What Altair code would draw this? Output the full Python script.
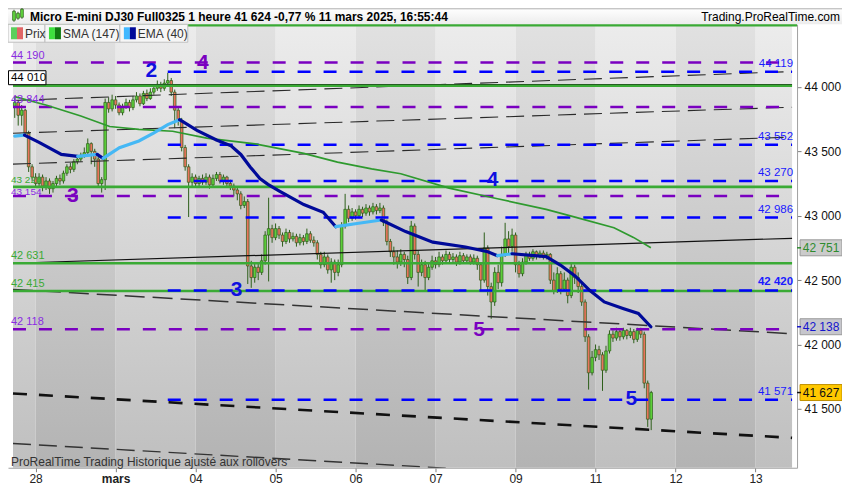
import altair as alt
import pandas as pd

W, H = 790, 444
X0, X1 = -0.5, 223.5
Y0, Y1 = 41043, 44487
PPX = (Y1 - Y0) / H
FONT = "Liberation Sans"

# ---------------- data ----------------
tick_pos = [6, 29, 52, 75, 98, 121, 144, 167, 190, 213]
tick_text = ["28", "mars", "04", "05", "06", "07", "09", "11", "12", "13"]
light_band_start = [-0.5, 29, 75, 121, 167, 213]
light_band_end = [6, 52, 98, 144, 190, 223.5]
dark_band_start = [6, 52, 98, 144, 190]
dark_band_end = [29, 75, 121, 167, 213]

opens = [43850, 43880, 43780, 43820, 43640, 43380, 43300, 43250, 43300, 43230,
         43270, 43210, 43250, 43290, 43270, 43330, 43380, 43360, 43420, 43440,
         43470, 43490, 43560, 43500, 43440, 43250, 43280, 43880, 43830, 43900,
         43860, 43800, 43850, 43880, 43840, 43900, 43930, 43870, 43950, 43910,
         43960, 43990, 44020, 43990, 44030, 44050, 43960, 43820, 43740, 43530,
         43380, 43260, 43300, 43250, 43290, 43260, 43300, 43240, 43290, 43320,
         43270, 43300, 43250, 43230, 43200, 43170, 43080, 43110, 42610, 42520,
         42600, 42560, 42650, 42850, 42900, 42830, 42900, 42850, 42800, 42870,
         42820, 42840, 42790, 42830, 42800, 42860, 42810, 42790, 42700, 42620,
         42680, 42580, 42640, 42560, 42620, 42920, 43050, 42980, 43030, 43000,
         43050, 43020, 43060, 43030, 43070, 43040, 43060, 42950, 42800, 42720,
         42680, 42640, 42700, 42660, 42520, 42920, 42700, 42560, 42620, 42520,
         42600, 42650, 42620, 42680, 42650, 42700, 42660, 42680, 42640, 42690,
         42650, 42680, 42640, 42670, 42620, 42500, 42750, 42450, 42330, 42560,
         42480, 42700, 42820, 42760, 42850, 42620, 42550, 42640, 42700, 42670,
         42720, 42690, 42710, 42680, 42700, 42500, 42420, 42550, 42430, 42500,
         42380, 42600, 42520, 42450, 42330, 42060, 41780, 41900, 41960, 41920,
         41800, 41950, 42080, 42050, 42100, 42060, 42110, 42070, 42100, 42040,
         42110, 42080, 41700, 41420]
highs = [43930, 43900, 43860, 43830, 43660, 43400, 43330, 43330, 43320, 43300,
         43290, 43270, 43310, 43320, 43350, 43400, 43410, 43440, 43470, 43490,
         43530, 43600, 43570, 43520, 43460, 43300, 43910, 43920, 43940, 43930,
         43880, 43870, 43910, 43900, 43930, 43960, 43950, 43970, 43980, 43990,
         44020, 44050, 44040, 44060, 44110, 44070, 43980, 43850, 43760, 43550,
         43400, 43330, 43320, 43310, 43320, 43330, 43320, 43320, 43340, 43340,
         43320, 43310, 43280, 43250, 43220, 43190, 43150, 43130, 42650, 42640,
         42630, 42700, 42880, 43140, 42930, 42940, 42920, 42870, 42900, 42890,
         42870, 42860, 42860, 42850, 42900, 42880, 42840, 42810, 42720, 42720,
         42700, 42670, 42660, 42660, 42950, 43170, 43080, 43060, 43050, 43080,
         43070, 43090, 43080, 43100, 43090, 43100, 43080, 42970, 42820, 42760,
         42730, 42740, 42720, 42690, 42960, 42940, 42730, 42660, 42650, 42640,
         42690, 42680, 42720, 42700, 42730, 42720, 42710, 42700, 42720, 42710,
         42700, 42700, 42700, 42690, 42640, 42870, 42770, 42480, 42600, 42620,
         42760, 42945, 42880, 42900, 42870, 42650, 42670, 42720, 42720, 42740,
         42730, 42730, 42730, 42720, 42710, 42560, 42600, 42570, 42560, 42520,
         42630, 42620, 42560, 42470, 42350, 42080, 41950, 42000, 41990, 41940,
         41990, 42110, 42110, 42130, 42120, 42130, 42120, 42130, 42120, 42130,
         42130, 42100, 41720, 41640]
lows = [43760, 43700, 43700, 43620, 43340, 43270, 43220, 43230, 43190, 43200,
        43170, 43180, 43230, 43240, 43250, 43310, 43330, 43340, 43400, 43420,
        43450, 43470, 43400, 43380, 43220, 43180, 43200, 43800, 43810, 43830,
        43780, 43780, 43830, 43810, 43820, 43880, 43850, 43860, 43890, 43900,
        43940, 43970, 43960, 43970, 44000, 43930, 43680, 43700, 43500, 43350,
        42990, 43230, 43220, 43230, 43240, 43240, 43210, 43220, 43270, 43250,
        43240, 43220, 43200, 43150, 43120, 43050, 43060, 42470, 42440, 42480,
        42500, 42540, 42620, 42490, 42790, 42810, 42820, 42760, 42780, 42790,
        42800, 42760, 42770, 42770, 42780, 42790, 42760, 42660, 42590, 42600,
        42550, 42480, 42500, 42530, 42600, 42900, 42950, 42960, 42970, 42980,
        42990, 43000, 43000, 43010, 43010, 43020, 42920, 42770, 42680, 42620,
        42590, 42610, 42600, 42470, 42500, 42660, 42450, 42530, 42420, 42500,
        42580, 42590, 42600, 42620, 42630, 42640, 42640, 42610, 42620, 42630,
        42630, 42620, 42620, 42580, 42420, 42480, 42380, 42200, 42300, 42430,
        42450, 42680, 42700, 42720, 42560, 42520, 42530, 42620, 42650, 42650,
        42660, 42670, 42660, 42660, 42470, 42390, 42400, 42390, 42410, 42320,
        42360, 42470, 42400, 42300, 42020, 41650, 41760, 41870, 41880, 41640,
        41780, 41930, 42020, 42030, 42030, 42040, 42040, 42050, 42010, 42020,
        42050, 41660, 41360, 41335]
closes = [43880, 43780, 43820, 43640, 43380, 43300, 43250, 43300, 43230, 43270,
          43210, 43250, 43290, 43270, 43330, 43380, 43360, 43420, 43440, 43470,
          43490, 43560, 43500, 43440, 43250, 43280, 43880, 43830, 43900, 43860,
          43800, 43850, 43880, 43840, 43900, 43930, 43870, 43950, 43910, 43960,
          43990, 44020, 43990, 44030, 44050, 43960, 43820, 43740, 43530, 43380,
          43260, 43300, 43250, 43290, 43260, 43300, 43240, 43290, 43320, 43270,
          43300, 43250, 43230, 43200, 43170, 43080, 43110, 42610, 42520, 42600,
          42560, 42650, 42850, 42900, 42830, 42900, 42850, 42800, 42870, 42820,
          42840, 42790, 42830, 42800, 42860, 42810, 42790, 42700, 42620, 42680,
          42580, 42640, 42560, 42620, 42920, 43050, 42980, 43030, 43000, 43050,
          43020, 43060, 43030, 43070, 43040, 43060, 42950, 42800, 42720, 42680,
          42640, 42700, 42660, 42520, 42920, 42700, 42560, 42620, 42520, 42600,
          42650, 42620, 42680, 42650, 42700, 42660, 42680, 42640, 42690, 42650,
          42680, 42640, 42670, 42620, 42500, 42750, 42450, 42330, 42560, 42480,
          42700, 42820, 42760, 42850, 42620, 42550, 42640, 42700, 42670, 42720,
          42690, 42710, 42680, 42700, 42500, 42420, 42550, 42430, 42500, 42380,
          42600, 42520, 42450, 42330, 42060, 41780, 41900, 41960, 41920, 41800,
          41950, 42080, 42050, 42100, 42060, 42110, 42070, 42100, 42040, 42110,
          42080, 41700, 41420, 41627]

sma_x = [0, 9.2, 19, 27.3, 35.7, 45.4, 55.2, 69.1, 83.1, 92.8, 102.6, 111, 124.9,
         138.8, 152.8, 161.1, 172.3, 177.9, 182.9]
sma_y = [43925, 43858, 43775, 43693, 43671, 43656, 43603, 43558, 43484, 43416, 43364,
         43326, 43214, 43132, 43049, 42989, 42907, 42832, 42751]

ema_seg = [0, 0,
           1, 1, 1, 1,
           2, 2,
           3, 3,
           4, 4, 4, 4, 4, 4,
           5, 5, 5, 5, 5, 5, 5, 5, 5, 5, 5, 5,
           6, 6, 6,
           7, 7, 7, 7, 7, 7,
           8, 8,
           9, 9, 9, 9, 9, 9, 9, 9, 9]
ema_x = [0, 2.8,
         2.8, 7, 13.4, 18.1,
         18.1, 23.7,
         23.7, 25.4,
         25.4, 30.1, 35.7, 39.9, 44, 47.4,
         47.4, 52.4, 58, 62.2, 65, 67.7, 70.5, 72.8, 76.1, 83.1, 88.7, 92.3,
         92.3, 98.4, 105.4,
         105.4, 112.4, 120.2, 129.6, 136, 138.8,
         138.8, 143,
         143, 152.8, 157, 161.1, 165.3, 169.5, 175.1, 179.3, 182.9]
ema_y = [43618, 43626,
         43626, 43570, 43476, 43461,
         43461, 43476,
         43476, 43446,
         43446, 43528, 43581, 43641, 43708, 43746,
         43746, 43663, 43588, 43543, 43476, 43379, 43289, 43244, 43192, 43087, 43027, 42915,
         42915, 42940, 42967,
         42967, 42877, 42795, 42757, 42720, 42690,
         42690, 42705,
         42705, 42683, 42615, 42533, 42421, 42331, 42278, 42241, 42138]

purple_levels = [44190, 43844, 43154, 42118]
blue_levels = [44119, 43552, 43270, 42986, 42420, 41571]
blue_level_start = 44
green_levels = [44010, 43224, 42631, 42415]

rise_thin_x0 = [43895, 43641, 43401]
rise_thin_x1 = [44120, 43843, 43611]
solid_trend = [42631, 42825]
fall_mid = [42428, 42084]
fall_thick = [41620, 41275]
fall_low = [41231, 40887]

left_label_text = ["44 190", "43 844", "42 631", "42 415", "42 118"]
left_label_price = [44190, 43844, 42631, 42415, 42118]
left_label_color = ["#8a2be2", "#8a2be2", "#3aaa35", "#3aaa35", "#8a2be2"]
pair_label_text = ["43 224", "43 154"]
pair_label_price = [43224, 43154]
pair_label_color = ["#3aaa35", "#8a2be2"]

right_label_text = ["44 119", "43 552", "43 270", "42 986", "41 571"]
right_label_price = [44119, 43552, 43270, 42986, 41571]

wave_text = ["2", "4", "3", "3", "4", "5", "5"]
wave_x = [39.3, 54.1, 16.7, 63.8, 137.4, 133.5, 177.3]
wave_y = [44127, 44187, 43154, 42421, 43281, 42114, 41575]
wave_color = ["#1010e0", "#7a00c0", "#7a00c0", "#1010e0", "#1010e0", "#7a00c0", "#1010e0"]

tag_text = ["42 751", "42 138", "41 627"]
tag_price = [42751, 42138, 41627]
tag_fill = ["#cbcbcb", "#c6c6cc", "#ffc800"]
tag_stroke = ["#9a9a9a", "#9a9a9a", "#c09000"]
tag_color = ["#2e8b2e", "#1515cc", "#111111"]

# ---------------- build ----------------
xs = alt.Scale(domain=[X0, X1], nice=False, zero=False)
ys = alt.Scale(domain=[Y0, Y1], nice=False, zero=False)

x_label_expr = " : ".join(f"datum.value == {p} ? '{t}'" for p, t in zip(tick_pos, tick_text)) + " : ''"
x_axis = alt.Axis(values=tick_pos, labelExpr=x_label_expr, title=None, grid=False,
                  domainColor="#a0a0a0", tickColor="#808080", tickSize=4,
                  labelColor="#222222", labelFontSize=12, labelFont=FONT, labelPadding=2,
                  labelFontWeight={"condition": {"test": "datum.value == 29", "value": "bold"},
                                   "value": "normal"})
y_axis = alt.Axis(orient="right", values=[41500, 42000, 42500, 43000, 43500, 44000],
                  labelExpr="replace(format(datum.value, ','), ',', ' ')", title=None,
                  grid=False, domainColor="#a0a0a0", tickColor="#808080", tickSize=4,
                  labelColor="#111111", labelFontSize=12, labelFont=FONT, labelPadding=3)


def X(field):
    return alt.X(field, scale=xs, axis=x_axis)


def Y(field):
    return alt.Y(field, scale=ys, axis=y_axis)


def grad(top, bottom):
    return alt.LinearGradient(gradient="linear",
                              stops=[alt.GradientStop(color=top, offset=0),
                                     alt.GradientStop(color=bottom, offset=1)],
                              x1=0, x2=0, y1=0, y2=1)


def box(x1, x2, y1, y2, fill, stroke=None, sw=1):
    kw = dict(fill=fill)
    if stroke:
        kw.update(stroke=stroke, strokeWidth=sw)
    return alt.Chart(pd.DataFrame({"a": [0]})).mark_rect(**kw).encode(
        x=alt.value(x1), x2=alt.value(x2), y=alt.value(y1), y2=alt.value(y2))


def label(x, y, txt, size=12, weight="normal", color="#222", align="left"):
    return alt.Chart(pd.DataFrame({"t": [txt]})).mark_text(
        font=FONT, fontSize=size, fontWeight=weight, color=color, align=align,
        baseline="middle").encode(x=alt.value(x), y=alt.value(y), text="t:N")


layers = []

# backgrounds
layers.append(alt.Chart(pd.DataFrame({"s": light_band_start, "e": light_band_end}))
              .mark_rect(color=grad("#ececec", "#bfbfbf"))
              .encode(x=X("s:Q"), x2="e:Q", y=alt.value(0), y2=alt.value(H)))
layers.append(alt.Chart(pd.DataFrame({"s": dark_band_start, "e": dark_band_end}))
              .mark_rect(color=grad("#e1e1e1", "#b3b3b3"))
              .encode(x=X("s:Q"), x2="e:Q", y=alt.value(0), y2=alt.value(H)))

# candles
cdf = pd.DataFrame({"bar": list(range(len(closes))), "open": opens, "high": highs,
                    "low": lows, "close": closes})
cdf["fill"] = ["#5ccf3a" if c >= o else "#e8745c" for o, c in zip(opens, closes)]
layers.append(alt.Chart(cdf).mark_rule(color="#2d5e1a", strokeWidth=1).encode(
    x=X("bar:Q"), y=Y("low:Q"), y2="high:Q"))
layers.append(alt.Chart(cdf).mark_bar(size=2.6, stroke="#2d5e1a", strokeWidth=0.7).encode(
    x=X("bar:Q"), y=Y("open:Q"), y2="close:Q",
    color=alt.Color("fill:N", scale=None)))


# trend lines
def tline(vals, **mk):
    df = pd.DataFrame({"id": sum([[i, i] for i in range(len(vals))], []),
                       "x": [X0, X1] * len(vals),
                       "y": sum([list(v) for v in vals], [])})
    return alt.Chart(df).mark_line(clip=True, **mk).encode(
        x=X("x:Q"), y=Y("y:Q"), detail="id:N")


layers.append(tline(list(zip(rise_thin_x0, rise_thin_x1)), color="#2a2a2a",
                    strokeWidth=1.1, strokeDash=[18, 8]))
layers.append(tline([solid_trend], color="#111111", strokeWidth=1.2))
layers.append(tline([fall_mid], color="#333333", strokeWidth=1.5, strokeDash=[20, 8]))
layers.append(tline([fall_thick], color="#111111", strokeWidth=2.6, strokeDash=[14, 12]))
layers.append(tline([fall_low], color="#333333", strokeWidth=1.4, strokeDash=[18, 8]))


# horizontal levels
def levels(prices, start, color, width, dash=None, offset=0):
    mk = dict(color=color, strokeWidth=width)
    if dash:
        mk.update(strokeDash=dash, strokeDashOffset=offset)
    df = pd.DataFrame({"p": prices, "s": [start] * len(prices), "e": [X1] * len(prices)})
    return alt.Chart(df).mark_rule(**mk).encode(x=X("s:Q"), x2="e:Q", y=Y("p:Q"))


layers.append(levels([44018], X0, "#111111", 1.2))
layers.append(levels(green_levels, X0, "#3aaa35", 2.6))
layers.append(levels(purple_levels, X0, "#7a00c0", 2.5, [13, 13], 0))
layers.append(levels(blue_levels, blue_level_start, "#0000ff", 2.5, [13, 13], 0))

# top green border
layers.append(alt.Chart(pd.DataFrame({"a": [0]})).mark_rule(color="#3aaa35", strokeWidth=2.5)
              .encode(x=alt.value(0), x2=alt.value(W), y=alt.value(1)))

# SMA & EMA
layers.append(alt.Chart(pd.DataFrame({"x": sma_x, "y": sma_y})).mark_line(
    color="#2e9a2e", strokeWidth=1.7).encode(x=X("x:Q"), y=Y("y:Q")))
edf = pd.DataFrame({"seg": ema_seg, "x": ema_x, "y": ema_y})
edf["col"] = ["#45b8f5" if s % 2 == 0 else "#000a99" for s in ema_seg]
layers.append(alt.Chart(edf).mark_line(strokeWidth=3.2, strokeCap="round").encode(
    x=X("x:Q"), y=Y("y:Q"), detail="seg:N", color=alt.Color("col:N", scale=None)))

# wave labels
layers.append(alt.Chart(pd.DataFrame({"t": wave_text, "x": wave_x, "y": wave_y, "c": wave_color}))
              .mark_text(font=FONT, fontSize=21, fontWeight="bold", baseline="middle")
              .encode(x=X("x:Q"), y=Y("y:Q"), text="t:N", color=alt.Color("c:N", scale=None)))

# left level labels
layers.append(alt.Chart(pd.DataFrame({"t": left_label_text, "p": left_label_price,
                                      "c": left_label_color}))
              .mark_text(font=FONT, fontSize=11, align="left", baseline="middle", dy=-7)
              .encode(x=alt.value(3), y=Y("p:Q"), text="t:N",
                      color=alt.Color("c:N", scale=None)))
layers.append(alt.Chart(pd.DataFrame({"t": pair_label_text[:1], "p": pair_label_price[:1],
                                      "c": pair_label_color[:1]}))
              .mark_text(font=FONT, fontSize=10, align="left", baseline="middle", dy=-7)
              .encode(x=alt.value(3), y=Y("p:Q"), text="t:N",
                      color=alt.Color("c:N", scale=None)))
layers.append(alt.Chart(pd.DataFrame({"t": pair_label_text[1:], "p": pair_label_price[1:],
                                      "c": pair_label_color[1:]}))
              .mark_text(font=FONT, fontSize=10, align="left", baseline="middle", dy=-4)
              .encode(x=alt.value(3), y=Y("p:Q"), text="t:N",
                      color=alt.Color("c:N", scale=None)))
# 44 010 boxed label
bdf = pd.DataFrame({"lo": [44010 + 1 * PPX], "hi": [44010 + 15 * PPX],
                    "mid": [44010 + 8 * PPX], "t": ["44 010"]})
layers.append(alt.Chart(bdf).mark_rect(fill="#ffffff", stroke="#000000", strokeWidth=1).encode(
    x=alt.value(0.5), x2=alt.value(38), y=Y("lo:Q"), y2="hi:Q"))
layers.append(alt.Chart(bdf).mark_text(font=FONT, fontSize=11.5, align="left", baseline="middle",
                                       color="#000000").encode(
    x=alt.value(3), y=Y("mid:Q"), text="t:N"))

# right blue labels
layers.append(alt.Chart(pd.DataFrame({"t": right_label_text, "p": right_label_price}))
              .mark_text(font=FONT, fontSize=11.5, align="right", baseline="middle", dy=-8,
                         color="#1a1aff")
              .encode(x=alt.value(W - 4), y=Y("p:Q"), text="t:N"))
layers.append(alt.Chart(pd.DataFrame({"t": ["42 420"], "p": [42420]}))
              .mark_text(font=FONT, fontSize=11.5, fontWeight="bold", align="right",
                         baseline="middle", dy=-8, color="#1a1aff")
              .encode(x=alt.value(W - 4), y=Y("p:Q"), text="t:N"))

# right value tags
tdf = pd.DataFrame({"t": tag_text, "p": tag_price, "f": tag_fill, "s": tag_stroke, "c": tag_color})
tdf["lo"] = tdf["p"] - 8 * PPX
tdf["hi"] = tdf["p"] + 8 * PPX
for i in range(len(tdf)):
    row = tdf.iloc[[i]]
    layers.append(alt.Chart(row).mark_rect(fill=tag_fill[i], stroke=tag_stroke[i], strokeWidth=1)
                  .encode(x=alt.value(W + 3), x2=alt.value(W + 45), y=Y("lo:Q"), y2="hi:Q"))
    layers.append(alt.Chart(row).mark_rule(color=tag_color[i], strokeWidth=1.5)
                  .encode(x=alt.value(W), x2=alt.value(W + 4), y=Y("p:Q")))
layers.append(alt.Chart(tdf).mark_text(font=FONT, fontSize=12, align="center", baseline="middle")
              .encode(x=alt.value(W + 24), y=Y("p:Q"), text="t:N",
                      color=alt.Color("c:N", scale=None)))

# header
layers.append(box(0, W + 45, -16, 0, grad("#ffffff", "#ececec")))
layers.append(alt.Chart(pd.DataFrame({"a": [0]})).mark_rule(color="#b0b0b0", strokeWidth=1)
              .encode(x=alt.value(0), x2=alt.value(W + 45), y=alt.value(-15.5)))
for (x, y1, y2, f) in [(6, -13, -4, "#5ccf3a"), (10, -11, -6, "#5ccf3a"), (14, -15, -7, "#5ccf3a")]:
    layers.append(alt.Chart(pd.DataFrame({"a": [0]})).mark_rule(color="#2d5e1a", strokeWidth=1)
                  .encode(x=alt.value(x), y=alt.value(y1 - 1.5), y2=alt.value(y2 + 1.5)))
    layers.append(box(x - 1.5, x + 1.5, y1, y2, f, "#2d5e1a", 0.6))
layers.append(label(22, -7.5, "Micro E-mini DJ30 Full0325 1 heure 41 624 -0,77 % 11 mars 2025, 16:55:44",
                    size=12, weight="bold", color="#000000"))
layers.append(label(W + 43, -7.5, "Trading.ProRealTime.com", size=12, color="#000000", align="right"))

# legend boxes
layers.append(box(0, 37, 0, 18, "#f6f6f6", "#c0c0c0"))
layers.append(box(37, 112, 0, 18, "#f6f6f6", "#c0c0c0"))
layers.append(box(112, 180, 0, 18, "#f6f6f6", "#c0c0c0"))
layers.append(box(3, 9, 3, 15, "#5ccf5c"))
layers.append(box(9, 15, 3, 15, "#e06666"))
layers.append(box(41, 47, 3, 15, "#3ee03e"))
layers.append(box(47, 53, 3, 15, "#107a10"))
layers.append(box(116, 122, 3, 15, "#40b8ff"))
layers.append(box(122, 128, 3, 15, "#000a99"))
layers.append(label(17, 9.5, "Prix", size=12, color="#333333"))
layers.append(label(55, 9.5, "SMA (147)", size=12, color="#333333"))
layers.append(label(130, 9.5, "EMA (40)", size=12, color="#333333"))

# footer
layers.append(label(3, H - 6, "ProRealTime Trading  Historique ajusté aux rollovers",
                    size=12, color="#333333"))

chart = alt.layer(*layers).properties(
    width=W, height=H,
    padding={"left": 0, "top": 16, "right": 45, "bottom": 20},
    autosize=alt.AutoSizeParams(type="none"),
    background="#ffffff",
).configure_view(stroke=None)

chart.save("out.html", embed_options={"renderer": "svg", "actions": False})
